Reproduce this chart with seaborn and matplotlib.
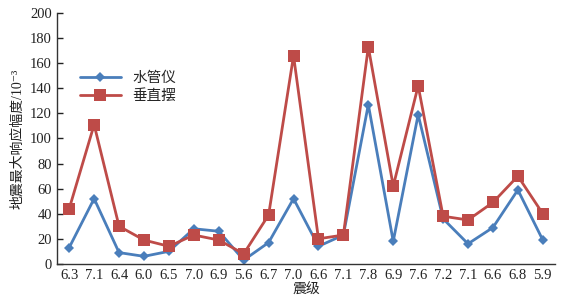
import matplotlib
matplotlib.use("Agg")
import matplotlib.pyplot as plt
import seaborn as sns
import pandas as pd
import numpy as np
from matplotlib.ticker import FixedLocator

magnitudes = ["6.3", "7.1", "6.4", "6.0", "6.5", "7.0", "6.9", "5.6", "6.7", "7.0",
              "6.6", "7.1", "7.8", "6.9", "7.6", "7.2", "7.1", "6.6", "6.8", "5.9"]
shuiguanyi = [13, 52, 9, 6, 10, 28, 26, 3, 17, 52, 14, 23, 127, 18, 119, 36, 16, 29, 59, 19]
chuizhibai = [44, 111, 30, 19, 14, 23, 19, 8, 39, 166, 20, 23, 173, 62, 142, 38, 35, 49, 70, 40]
series_names = ["水管仪", "垂直摆"]
y_ticks = list(range(0, 201, 20))

sns.set_theme(style="white")
plt.rcParams['font.family'] = ['Liberation Serif', 'Noto Sans CJK SC', 'DejaVu Sans']

idx = np.arange(len(magnitudes))
df = pd.DataFrame({
    "idx": np.concatenate([idx, idx]),
    "value": shuiguanyi + chuizhibai,
    "series": [series_names[0]] * len(idx) + [series_names[1]] * len(idx),
})

fig = plt.figure(figsize=(5.79, 3.04), dpi=100)
ax = fig.add_axes([0.098, 0.132, 0.861, 0.825])

palette = {series_names[0]: "#4a7ebb", series_names[1]: "#be4b48"}
markers = {series_names[0]: "D", series_names[1]: "s"}
sizes_m = {series_names[0]: 5, series_names[1]: 8.5}

for name in series_names:
    sub = df[df["series"] == name]
    sns.lineplot(data=sub, x="idx", y="value", ax=ax, color=palette[name],
                 marker=markers[name], markersize=sizes_m[name], linewidth=2,
                 markeredgewidth=0, label=name)

ax.set_xlim(-0.5, len(magnitudes) - 0.5)
ax.set_ylim(0, 200)
ax.set_yticks(y_ticks)
ax.set_xticks(idx)
ax.set_xticklabels(magnitudes)
ax.xaxis.set_minor_locator(FixedLocator(np.arange(-0.5, len(magnitudes), 1.0)))
ax.tick_params(axis="x", which="major", length=0, labelsize=10.5, colors="#222222", pad=4)
ax.tick_params(axis="x", which="minor", length=4, width=1, direction="in", color="#333333")
ax.tick_params(axis="y", which="major", length=4, width=1, direction="in", labelsize=10.5,
               colors="#222222", left=True)
for s in ["top", "right"]:
    ax.spines[s].set_visible(False)
for s in ["left", "bottom"]:
    ax.spines[s].set_color("#333333")
    ax.spines[s].set_linewidth(1)

ax.set_xlabel("震级", fontsize=10, labelpad=1, color="#222222")
ax.set_ylabel("地震最大响应幅度/10⁻³", fontsize=10, labelpad=4, color="#222222")
ax.grid(False)

leg = ax.legend(loc="upper left", bbox_to_anchor=(0.02, 0.82), frameon=False,
                fontsize=10.5, handlelength=2.8, labelspacing=0.3)

fig.savefig("out.png", dpi=100)
